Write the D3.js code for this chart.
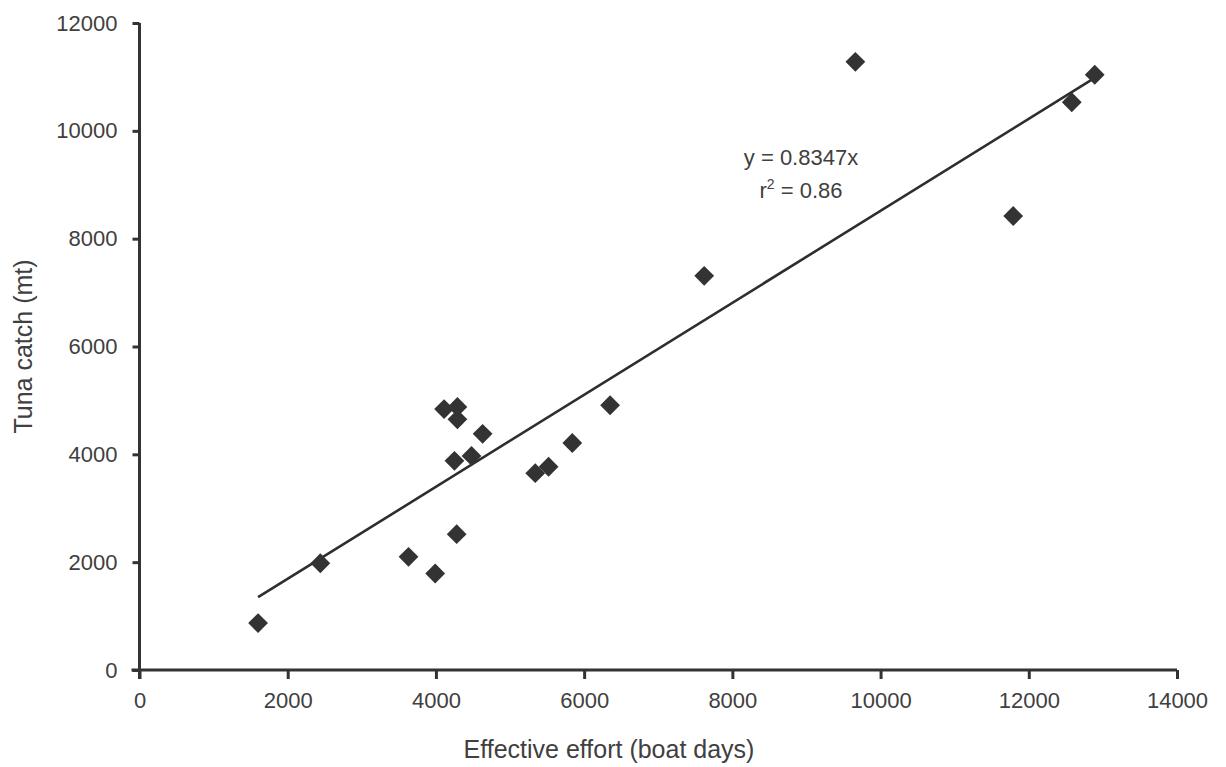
<!DOCTYPE html>
<html>
<head>
<meta charset="utf-8">
<script src="https://cdn.jsdelivr.net/npm/d3@7"></script>
<style>
  body { margin: 0; background: #fff; }
  text { font-family: "Liberation Sans", Arial, sans-serif; fill: #404040; }
</style>
</head>
<body>
<div id="container"></div>
<script>
// effort (boat days) vs catch (mt)
const effort = [1600, 2440, 3630, 3990, 4280, 4110, 4290, 4290, 4250, 4480, 4630, 5340, 5520, 5840, 6350, 7620, 9660, 11790, 12580, 12890];
const tunaCatch = [870, 1980, 2100, 1790, 2520, 4840, 4880, 4650, 3880, 3970, 4380, 3650, 3770, 4210, 4910, 7310, 11280, 8420, 10530, 11040];
// fitted line ends as drawn
const fitX = [1600, 12840];
const fitY = [1350, 10940];
const xTicks = [0, 2000, 4000, 6000, 8000, 10000, 12000, 14000];
const yTicks = [0, 2000, 4000, 6000, 8000, 10000, 12000];

const width = 1226, height = 767;
const margin = { top: 23, right: 49, bottom: 97, left: 139.5 };

const svg = d3.select("#container").append("svg")
  .attr("width", width)
  .attr("height", height);

const x = d3.scaleLinear().domain([0, 14000])
  .range([margin.left, width - margin.right]);
const y = d3.scaleLinear().domain([0, 12000])
  .range([height - margin.bottom, margin.top]);

const axisColor = "#333";

// x axis
const gx = svg.append("g")
  .attr("transform", `translate(0,${y(0)})`)
  .call(d3.axisBottom(x).tickValues(xTicks).tickFormat(d3.format("d")).tickSize(9).tickSizeOuter(0).tickPadding(13));
gx.select(".domain").attr("stroke", axisColor).attr("stroke-width", 3)
  .attr("d", `M${x(0) - 8},0H${x(14000)}`);
gx.selectAll(".tick line").attr("stroke", axisColor).attr("stroke-width", 3);
gx.selectAll(".tick text").attr("font-size", 22).attr("fill", "#404040");

// y axis
const gy = svg.append("g")
  .attr("transform", `translate(${x(0)},0)`)
  .call(d3.axisLeft(y).tickValues(yTicks).tickFormat(d3.format("d")).tickSize(7).tickSizeOuter(0).tickPadding(15));
gy.select(".domain").attr("stroke", axisColor).attr("stroke-width", 3)
  .attr("d", `M0,${y(12000)}V${y(0) + 9}`);
gy.selectAll(".tick line").attr("stroke", axisColor).attr("stroke-width", 3);
gy.selectAll(".tick text").attr("font-size", 22).attr("fill", "#404040");

// axis titles
svg.append("text")
  .attr("x", 609)
  .attr("y", 758)
  .attr("text-anchor", "middle")
  .attr("font-size", 25)
  .text("Effective effort (boat days)");

svg.append("text")
  .attr("transform", `translate(32,${(y(0) + y(12000)) / 2}) rotate(-90)`)
  .attr("text-anchor", "middle")
  .attr("font-size", 25)
  .text("Tuna catch (mt)");

// regression line
svg.append("line")
  .attr("x1", x(fitX[0])).attr("y1", y(fitY[0]))
  .attr("x2", x(fitX[1])).attr("y2", y(fitY[1]))
  .attr("stroke", "#2e2e2e")
  .attr("stroke-width", 2.6);

// diamonds
const pts = effort.map((e, i) => ({ e, c: tunaCatch[i] }));
svg.selectAll("path.pt")
  .data(pts)
  .join("path")
    .attr("class", "pt")
    .attr("d", d3.symbol(d3.symbolSquare, 196))
    .attr("transform", d => `translate(${x(d.e)},${y(d.c)}) rotate(45)`)
    .attr("fill", "#333");

// equation
const eq = svg.append("g");
eq.append("text")
  .attr("x", 801).attr("y", 165)
  .attr("text-anchor", "middle")
  .attr("font-size", 22)
  .text("y = 0.8347x");
const r2 = eq.append("text")
  .attr("x", 801).attr("y", 198)
  .attr("text-anchor", "middle")
  .attr("font-size", 22);
r2.append("tspan").text("r");
r2.append("tspan").attr("font-size", 14).attr("dy", -9).text("2");
r2.append("tspan").attr("dy", 9).text(" = 0.86");
</script>
</body>
</html>
